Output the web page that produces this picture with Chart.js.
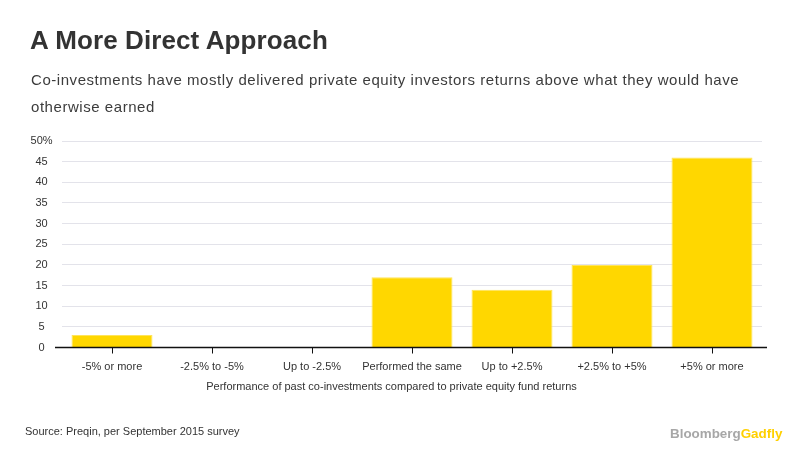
<!DOCTYPE html>
<html>
<head>
<meta charset="utf-8">
<script src="https://cdn.jsdelivr.net/npm/chart.js@4"></script>
<style>
  html, body { margin: 0; padding: 0; background: #fff; }
  body { width: 812px; height: 471px; position: relative; overflow: hidden; font-family: "Liberation Sans", Arial, sans-serif; }
  #wrap { position: absolute; left: 0; top: 0; width: 812px; height: 471px; }
  .t { position: absolute; white-space: nowrap; }
  #title { left: 30px; top: 27px; font-size: 26px; line-height: 26px; font-weight: bold; color: #333; letter-spacing: 0.1px; }
  #sub { left: 31px; top: 66px; font-size: 15px; line-height: 27px; color: #3c3c3c; letter-spacing: 0.55px; }
  #xtitle { left: 391.5px; top: 380.7px; transform: translateX(-50%); font-size: 11px; line-height: 11px; color: #333; }
  #source { left: 25px; top: 426.4px; font-size: 11px; line-height: 11px; color: #333; }
  #logo { left: 670px; top: 426.5px; font-size: 13.4px; line-height: 13.4px; font-weight: bold; letter-spacing: 0px; }
  #logo .b { color: #a7a7a7; }
  #logo .g { color: #FFD000; }
</style>
</head>
<body>
<div id="wrap"><canvas id="c" width="812" height="471"></canvas></div>
<div class="t" id="title">A More Direct Approach</div>
<div class="t" id="sub">Co-investments have mostly delivered private equity investors returns above what they would have<br>otherwise earned</div>
<div class="t" id="xtitle">Performance of past co-investments compared to private equity fund returns</div>
<div class="t" id="source">Source: Preqin, per September 2015 survey</div>
<div class="t" id="logo"><span class="b">Bloomberg</span><span class="g">Gadfly</span></div>
<script>
const categories = ["-5% or more", "-2.5% to -5%", "Up to -2.5%", "Performed the same", "Up to +2.5%", "+2.5% to +5%", "+5% or more"];
const shareOfInvestors = [3, 0, 0, 17, 14, 20, 46];
const yTickValues = [0, 5, 10, 15, 20, 25, 30, 35, 40, 45, 50];
const yTopLabel = "50%";

const baselinePlugin = {
  id: 'baseline',
  afterDatasetsDraw(chart) {
    const ctx = chart.ctx;
    const y = chart.scales.y.getPixelForValue(0);
    const a = chart.chartArea;
    ctx.save();
    ctx.strokeStyle = '#111';
    ctx.lineWidth = 1.5;
    ctx.beginPath();
    ctx.moveTo(a.left - 7, y);
    ctx.lineTo(a.right + 5, y);
    ctx.stroke();
    ctx.restore();
  }
};

new Chart(document.getElementById('c'), {
  type: 'bar',
  data: {
    labels: categories,
    datasets: [{
      data: shareOfInvestors,
      backgroundColor: '#FFD700',
      borderColor: '#FFE45A',
      borderWidth: 1,
      barPercentage: 0.81,
      categoryPercentage: 1.0
    }]
  },
  options: {
    responsive: false,
    animation: false,
    devicePixelRatio: 1,
    layout: { padding: { left: 0, right: 50, top: 141, bottom: 93.5 } },
    plugins: { legend: { display: false }, tooltip: { enabled: false }, title: { display: false } },
    scales: {
      x: {
        offset: true,
        afterFit(s) { s.height = 30; },
        grid: { offset: false, drawOnChartArea: false, drawTicks: true, tickLength: 6, color: '#111', lineWidth: 1 },
        border: { display: false },
        ticks: { font: { family: 'Liberation Sans', size: 11 }, color: '#333', padding: 7, maxRotation: 0, autoSkip: false }
      },
      y: {
        min: 0, max: 50,
        afterFit(s) { s.width = 62; },
        afterBuildTicks(s) { s.ticks = yTickValues.map(v => ({ value: v })); },
        grid: { color: '#e3e3ea', lineWidth: 1, drawTicks: false },
        border: { display: false },
        ticks: {
          font: { family: 'Liberation Sans', size: 11 }, color: '#333',
          crossAlign: 'center', padding: 9.4,
          callback: (v) => v === 50 ? yTopLabel : String(v)
        }
      }
    }
  },
  plugins: [baselinePlugin]
});
</script>
</body>
</html>
